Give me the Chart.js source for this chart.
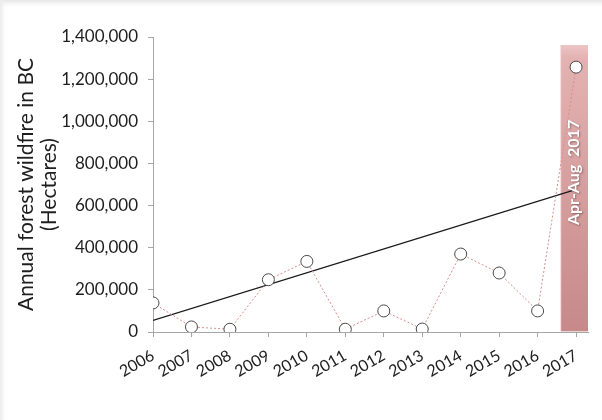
<!DOCTYPE html>
<html>
<head>
<meta charset="utf-8">
<script src="https://cdn.jsdelivr.net/npm/chart.js@4/dist/chart.umd.min.js"></script>
<style>
  html, body { margin: 0; padding: 0; background: #ffffff; }
  #wrap { width: 602px; height: 420px; position: relative; }
</style>
</head>
<body>
<div id="wrap"><canvas id="c" width="602" height="420"></canvas></div>
<script>
// ---- data ----
const years = [2006, 2007, 2008, 2009, 2010, 2011, 2012, 2013, 2014, 2015, 2016, 2017];
const hectares = [138000, 24000, 13000, 248000, 335000, 13000, 100000, 14000, 370000, 280000, 100000, 1257000];
const trendYears = [2006, 2016.9];
const trendValues = [55000, 671000];
const highlightYear = [2017];
const highlightValue = [1360000];
const highlightLabel = 'Apr-Aug  2017';
const yTitle = ['Annual forest wildfire in BC', '(Hectares)'];
const yMax = 1400000;
const yStep = 200000;

const FONT = 'Lato, "Open Sans", sans-serif';

const backgroundPlugin = {
  id: 'bg',
  beforeDraw(chart) {
    const ctx = chart.ctx;
    ctx.save();
    ctx.fillStyle = '#ffffff';
    ctx.fillRect(0, 0, chart.width, chart.height);
    let g = ctx.createLinearGradient(0, 0, 0, 7);
    g.addColorStop(0, '#e6e6e6');
    g.addColorStop(1, 'rgba(240,240,240,0)');
    ctx.fillStyle = g;
    ctx.fillRect(0, 0, chart.width, 7);
    g = ctx.createLinearGradient(0, 0, 6, 0);
    g.addColorStop(0, '#ebebeb');
    g.addColorStop(1, 'rgba(240,240,240,0)');
    ctx.fillStyle = g;
    ctx.fillRect(0, 0, 6, chart.height);
    ctx.restore();
  }
};

const barLabelPlugin = {
  id: 'barLabel',
  afterDatasetsDraw(chart) {
    const meta = chart.getDatasetMeta(0);
    const bar = meta.data[0];
    if (!bar) return;
    const ctx = chart.ctx;
    const cy = (bar.y + bar.base) / 2 - 16;
    ctx.save();
    ctx.translate(bar.x - 2, cy);
    ctx.rotate(-Math.PI / 2);
    ctx.font = 'bold 16px ' + FONT;
    ctx.fillStyle = '#ffffff';
    ctx.textAlign = 'center';
    ctx.textBaseline = 'middle';
    ctx.shadowColor = 'rgba(0,0,0,0.35)';
    ctx.shadowBlur = 2;
    ctx.shadowOffsetX = 1;
    ctx.shadowOffsetY = 1;
    ctx.fillText(highlightLabel, 0, 0);
    ctx.restore();
  }
};

function barGradient(context) {
  const chart = context.chart;
  const area = chart.chartArea;
  if (!area) return '#cf9595';
  const g = chart.ctx.createLinearGradient(0, area.top, 0, area.bottom);
  g.addColorStop(0, '#f2d0d0');
  g.addColorStop(0.07, '#e4b2b2');
  g.addColorStop(1, '#c78989');
  return g;
}

new Chart(document.getElementById('c'), {
  data: {
    datasets: [
      {
        type: 'bar',
        order: 3,
        data: highlightYear.map((x, i) => ({ x: x, y: highlightValue[i] })),
        backgroundColor: barGradient,
        borderColor: '#ebc8c8',
        borderWidth: 1,
        barThickness: 31
      },
      {
        type: 'line',
        order: 2,
        data: trendYears.map((x, i) => ({ x: x, y: trendValues[i] })),
        borderColor: '#1a1a1a',
        borderWidth: 1.2,
        pointRadius: 0,
        fill: false
      },
      {
        type: 'line',
        order: 1,
        data: years.map((x, i) => ({ x: x, y: hectares[i] })),
        borderColor: '#d98e8a',
        borderWidth: 1,
        borderDash: [2, 2],
        pointRadius: 6,
        pointBorderWidth: 1,
        pointBorderColor: '#4a4a4a',
        pointBackgroundColor: '#ffffff',
        fill: false,
        tension: 0
      }
    ]
  },
  options: {
    responsive: false,
    animation: false,
    layout: { padding: { top: 37, right: 14, left: 0, bottom: 0 } },
    plugins: { legend: { display: false }, tooltip: { enabled: false } },
    scales: {
      x: {
        type: 'linear',
        offset: false,
        min: years[0],
        max: 2017.31,
        afterFit(scale) { scale.height = 88; },
        afterBuildTicks(scale) {
          scale.ticks = years.map(v => ({ value: v }));
        },
        ticks: {
          autoSkip: false,
          minRotation: 30,
          maxRotation: 30,
          padding: 9,
          color: '#1e1e1e',
          font: { family: FONT, size: 16 },
          callback: v => String(v)
        },
        grid: { display: true, offset: false, drawOnChartArea: false, drawTicks: true, tickLength: 5, color: '#a6a6a6' },
        border: { display: true, color: '#a6a6a6' }
      },
      y: {
        min: 0,
        max: yMax,
        afterFit(scale) { scale.width = 153; },
        ticks: {
          stepSize: yStep,
          padding: 10,
          color: '#1e1e1e',
          font: { family: FONT, size: 17 },
          callback: v => v.toLocaleString('en-US')
        },
        title: {
          display: true,
          text: yTitle,
          color: '#1e1e1e',
          font: { family: FONT, size: 21, lineHeight: 1.1 },
          padding: { top: 15, bottom: 0 }
        },
        grid: { display: true, drawOnChartArea: false, drawTicks: true, tickLength: 5, color: '#a6a6a6' },
        border: { display: true, color: '#a6a6a6' }
      }
    }
  },
  plugins: [backgroundPlugin, barLabelPlugin]
});
</script>
</body>
</html>
